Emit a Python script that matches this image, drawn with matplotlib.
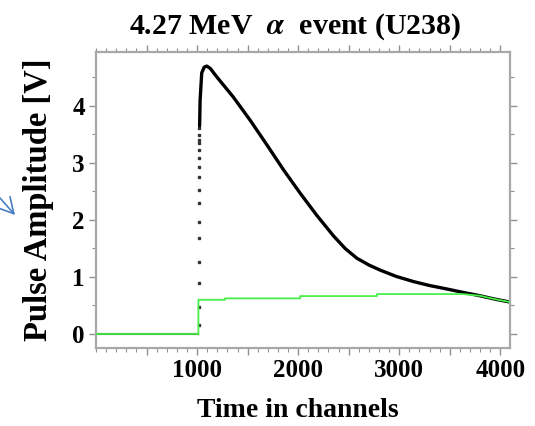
import matplotlib

matplotlib.use("Agg")
import matplotlib.pyplot as plt  # noqa: E402
from matplotlib.patches import FancyArrowPatch  # noqa: E402
from matplotlib.ticker import FixedLocator, FuncFormatter, MultipleLocator  # noqa: E402

plt.rcParams["font.family"] = ["Liberation Serif", "DejaVu Serif"]
plt.rcParams["font.weight"] = "bold"
plt.rcParams["mathtext.fontset"] = "stix"

# black trace: baseline, then fast rise (sparse samples), then decay
base_ch = [0, 1013]
base_v = [0.0, 0.0]
rise_ch = [1020] * 16
rise_v = [0.16, 0.47, 0.89, 1.26, 1.68, 1.96, 2.30, 2.53, 2.75, 2.93, 3.09, 3.23, 3.35, 3.40, 3.49, 3.61]
decay_ch = [1025, 1030, 1046, 1070, 1096, 1130, 1195, 1357, 1525, 1690, 1855, 2020, 2185, 2350,
            2465, 2580, 2700, 2812, 2970, 3140, 3300, 3470, 3630, 3800, 3950, 4096]
decay_v = [3.65, 4.10, 4.58, 4.68, 4.70, 4.66, 4.51, 4.16, 3.75, 3.32, 2.88, 2.47, 2.08, 1.72,
           1.50, 1.33, 1.21, 1.12, 1.01, 0.92, 0.85, 0.79, 0.73, 0.67, 0.61, 0.56]

# green trace (step-like shaped signal)
green_ch = [0, 1013, 1013, 1277, 1277, 2020, 2020, 2780, 2780, 3630, 3800, 3950, 4096]
green_v = [0.0, 0.0, 0.60, 0.60, 0.625, 0.625, 0.665, 0.665, 0.70, 0.70, 0.67, 0.61, 0.56]

x_labels = {1000: "1000", 2000: "2000", 3000: "3000", 4000: "4000"}

fig = plt.figure(figsize=(5.35, 4.26), dpi=100)
ax = fig.add_axes([96 / 535, 78 / 426, 414 / 535, 296 / 426])

ax.plot(base_ch, base_v, color="black", lw=1.5, zorder=2)
ax.plot(rise_ch, rise_v, ls="none", marker="s", ms=1.6, color="#333333", zorder=2)
ax.plot(decay_ch, decay_v, color="black", lw=2.4, solid_capstyle="round", zorder=2)
ax.plot(green_ch, green_v, color="#48f048", lw=1.3, zorder=3)

ax.set_xlim(0, 4096)
ax.set_ylim(-0.246, 4.947)

ax.xaxis.set_major_locator(FixedLocator([500, 1000, 1500, 2000, 2500, 3000, 3500, 4000]))
ax.xaxis.set_minor_locator(MultipleLocator(100))
ax.xaxis.set_major_formatter(FuncFormatter(lambda v, p: x_labels.get(int(round(v)), "")))
ax.yaxis.set_major_locator(MultipleLocator(1))
ax.yaxis.set_minor_locator(MultipleLocator(0.5))

for side in ax.spines.values():
    side.set_color("#a8a8a8")
    side.set_linewidth(1.6)

ax.tick_params(which="both", direction="out", top=True, right=True, color="#909090")
ax.tick_params(which="major", length=5, width=1, labelsize=18, pad=3)
ax.tick_params(which="minor", length=3, width=0.8)

ax.set_title("4.27 MeV  $\\alpha$  event (U238)", fontsize=21.5, fontweight="bold", pad=13, x=0.48)
ax.set_xlabel("Time in channels", fontsize=20, fontweight="bold")
ax.set_ylabel("Pulse Amplitude [V]", fontsize=23.5, fontweight="bold", labelpad=13)
ax.xaxis.set_label_coords(0.488, -0.168)

# blue arrow pointing at the y label
fig.add_artist(FancyArrowPatch(
    (0 / 535, 1 - 198 / 426), (15 / 535, 1 - 215 / 426),
    transform=fig.transFigure, arrowstyle="->,head_length=11,head_width=6",
    color="#4a7fc8", lw=1.2, mutation_scale=1, shrinkA=0, shrinkB=0))

fig.savefig("out.png", dpi=100)
